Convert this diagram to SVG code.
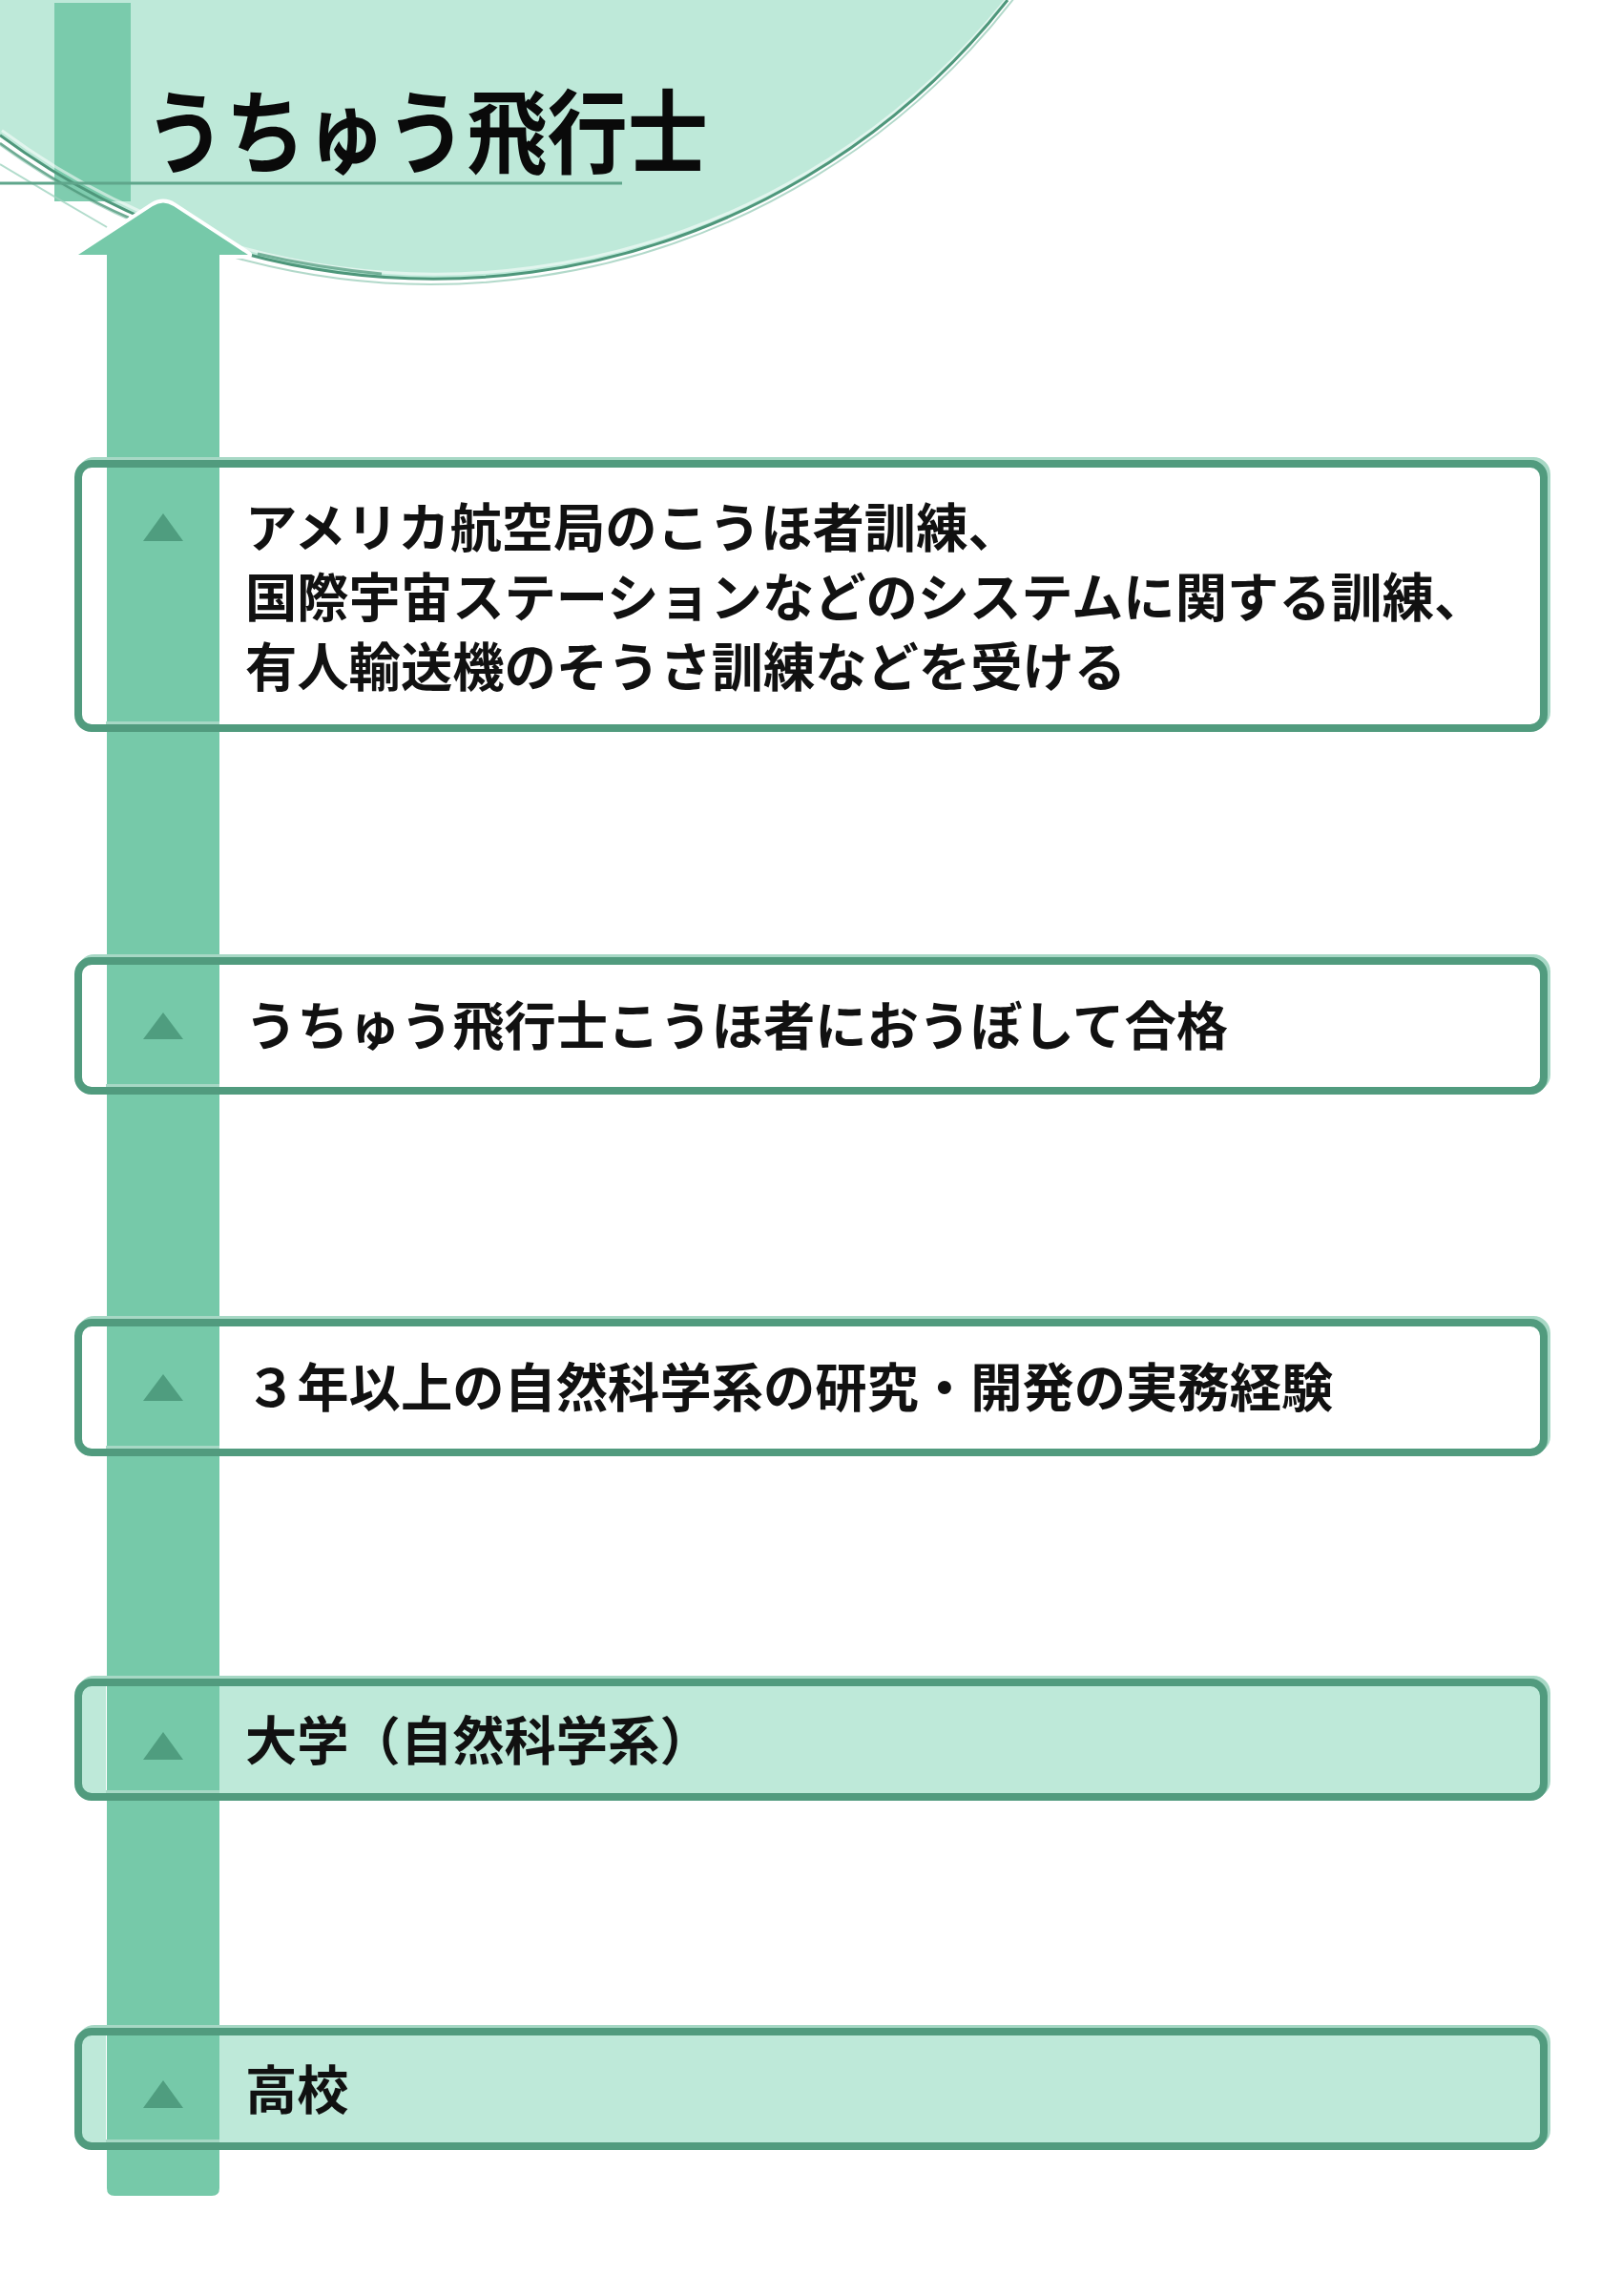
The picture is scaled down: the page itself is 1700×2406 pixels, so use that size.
<svg xmlns="http://www.w3.org/2000/svg" width="1700" height="2406" viewBox="0 0 1700 2406">
<style>
.bg{fill:#ffffff}
.txt{font-family:"Noto Sans CJK JP","Noto Sans CJK SC",sans-serif;font-weight:700;font-size:54.3px;fill:#111111}
.title{font-family:"Noto Sans CJK JP","Noto Sans CJK SC",sans-serif;font-weight:700;font-size:96px;fill:#0a0a0a}
.shadow{fill:none;stroke:#a7d8c5;stroke-width:8}
.border{fill:none;stroke:#519b7e;stroke-width:8}
.fillw{fill:#ffffff;fill-rule:evenodd}
.fillm{fill:#bee9d9;fill-rule:evenodd}
.tri{fill:#4f9d7f}
.bar{fill:#76c9a9}
</style>
<rect class="bg" x="0" y="0" width="1700" height="2406"/>

<g id="header">
  <circle cx="455" cy="-472" r="764" fill="#bee9d9"/>
  <rect x="57" y="3" width="80" height="208" fill="#74c8a8" opacity="0.92"/>
  <path d="M 0 141.7 A 764 764 0 0 0 1056 0" fill="none" stroke="#ffffff" stroke-width="3" opacity="0.55" transform="translate(2,-5)"/>
  <path d="M 0 141.7 A 764 764 0 0 0 1056 0" fill="none" stroke="#4e977b" stroke-width="3"/>
  <path d="M 0 157.7 A 772 772 0 0 0 1066 0" fill="none" stroke="#7fc0a7" stroke-width="2" opacity="0.6" transform="translate(0,-6)"/>
  <path d="M 0 150 Q 70 200 135 228" fill="none" stroke="#4e977b" stroke-width="2.5" opacity="0.8"/>
  <path d="M 0 172 Q 55 205 112 238" fill="none" stroke="#9fd3bf" stroke-width="2" opacity="0.8"/>
  <path d="M 270 266 Q 330 280 400 287" fill="none" stroke="#4e977b" stroke-width="3" opacity="0.7"/>
  <line x1="0" y1="192" x2="652" y2="192" stroke="#5fa68b" stroke-width="3"/>
  <text class="title" x="152" y="174" textLength="590" lengthAdjust="spacingAndGlyphs">うちゅう飛行士</text>
</g>

<g id="connectors">
  <path d="M 82 267 L 160 216 Q 171 209 182 216 L 260 267 Z" fill="#ffffff" stroke="#ffffff" stroke-width="8" stroke-linejoin="round"/>
  <path class="bar" d="M 112 2293 L 112 267 L 82 267 L 160 216 Q 171 209 182 216 L 260 267 L 230 267 L 230 2293 Q 230 2301 222 2301 L 120 2301 Q 112 2301 112 2293 Z"/>
</g>

<g id="node-training">
  <rect class="shadow" x="85" y="483" width="1536" height="277" rx="14"/>
  <path class="fillw" d="M 96 486 H 1604 A 14 14 0 0 1 1618 500 V 749 A 14 14 0 0 1 1604 763 H 96 A 14 14 0 0 1 82 749 V 500 A 14 14 0 0 1 96 486 Z M 111 486 V 763 H 230 V 486 Z"/>
  <rect class="border" x="82" y="486" width="1536" height="277" rx="14"/>
  <polygon class="tri" points="171,538 192,567 150,567"/>
  <text class="txt" x="257" y="573">アメリカ航空局のこうほ者訓練、</text>
  <text class="txt" x="257" y="646">国際宇宙ステーションなどのシステムに関する訓練、</text>
  <text class="txt" x="257" y="719">有人輸送機のそうさ訓練などを受ける</text>
</g>

<g id="node-candidate">
  <rect class="shadow" x="85" y="1004" width="1536" height="136" rx="14"/>
  <path class="fillw" d="M 96 1007 H 1604 A 14 14 0 0 1 1618 1021 V 1129 A 14 14 0 0 1 1604 1143 H 96 A 14 14 0 0 1 82 1129 V 1021 A 14 14 0 0 1 96 1007 Z M 111 1007 V 1143 H 230 V 1007 Z"/>
  <rect class="border" x="82" y="1007" width="1536" height="136" rx="14"/>
  <polygon class="tri" points="171,1061 192,1089 150,1089"/>
  <text class="txt" x="257" y="1095">うちゅう飛行士こうほ者におうぼして合格</text>
</g>

<g id="node-experience">
  <rect class="shadow" x="85" y="1383" width="1536" height="136" rx="14"/>
  <path class="fillw" d="M 96 1386 H 1604 A 14 14 0 0 1 1618 1400 V 1508 A 14 14 0 0 1 1604 1522 H 96 A 14 14 0 0 1 82 1508 V 1400 A 14 14 0 0 1 96 1386 Z M 111 1386 V 1522 H 230 V 1386 Z"/>
  <rect class="border" x="82" y="1386" width="1536" height="136" rx="14"/>
  <polygon class="tri" points="171,1440 192,1468 150,1468"/>
  <text class="txt" x="257" y="1474">３年以上の自然科学系の研究・開発の実務経験</text>
</g>

<g id="node-university">
  <rect class="shadow" x="85" y="1760" width="1536" height="120" rx="14"/>
  <path class="fillm" d="M 96 1763 H 1604 A 14 14 0 0 1 1618 1777 V 1869 A 14 14 0 0 1 1604 1883 H 96 A 14 14 0 0 1 82 1869 V 1777 A 14 14 0 0 1 96 1763 Z M 111 1763 V 1883 H 230 V 1763 Z"/>
  <rect class="border" x="82" y="1763" width="1536" height="120" rx="14"/>
  <polygon class="tri" points="171,1815 192,1844 150,1844"/>
  <text class="txt" x="257" y="1844">大学（自然科学系）</text>
</g>

<g id="node-highschool">
  <rect class="shadow" x="85" y="2126" width="1536" height="120" rx="14"/>
  <path class="fillm" d="M 96 2129 H 1604 A 14 14 0 0 1 1618 2143 V 2235 A 14 14 0 0 1 1604 2249 H 96 A 14 14 0 0 1 82 2235 V 2143 A 14 14 0 0 1 96 2129 Z M 111 2129 V 2249 H 230 V 2129 Z"/>
  <rect class="border" x="82" y="2129" width="1536" height="120" rx="14"/>
  <polygon class="tri" points="171,2180 192,2209 150,2209"/>
  <text class="txt" x="257" y="2210">高校</text>
</g>
</svg>
